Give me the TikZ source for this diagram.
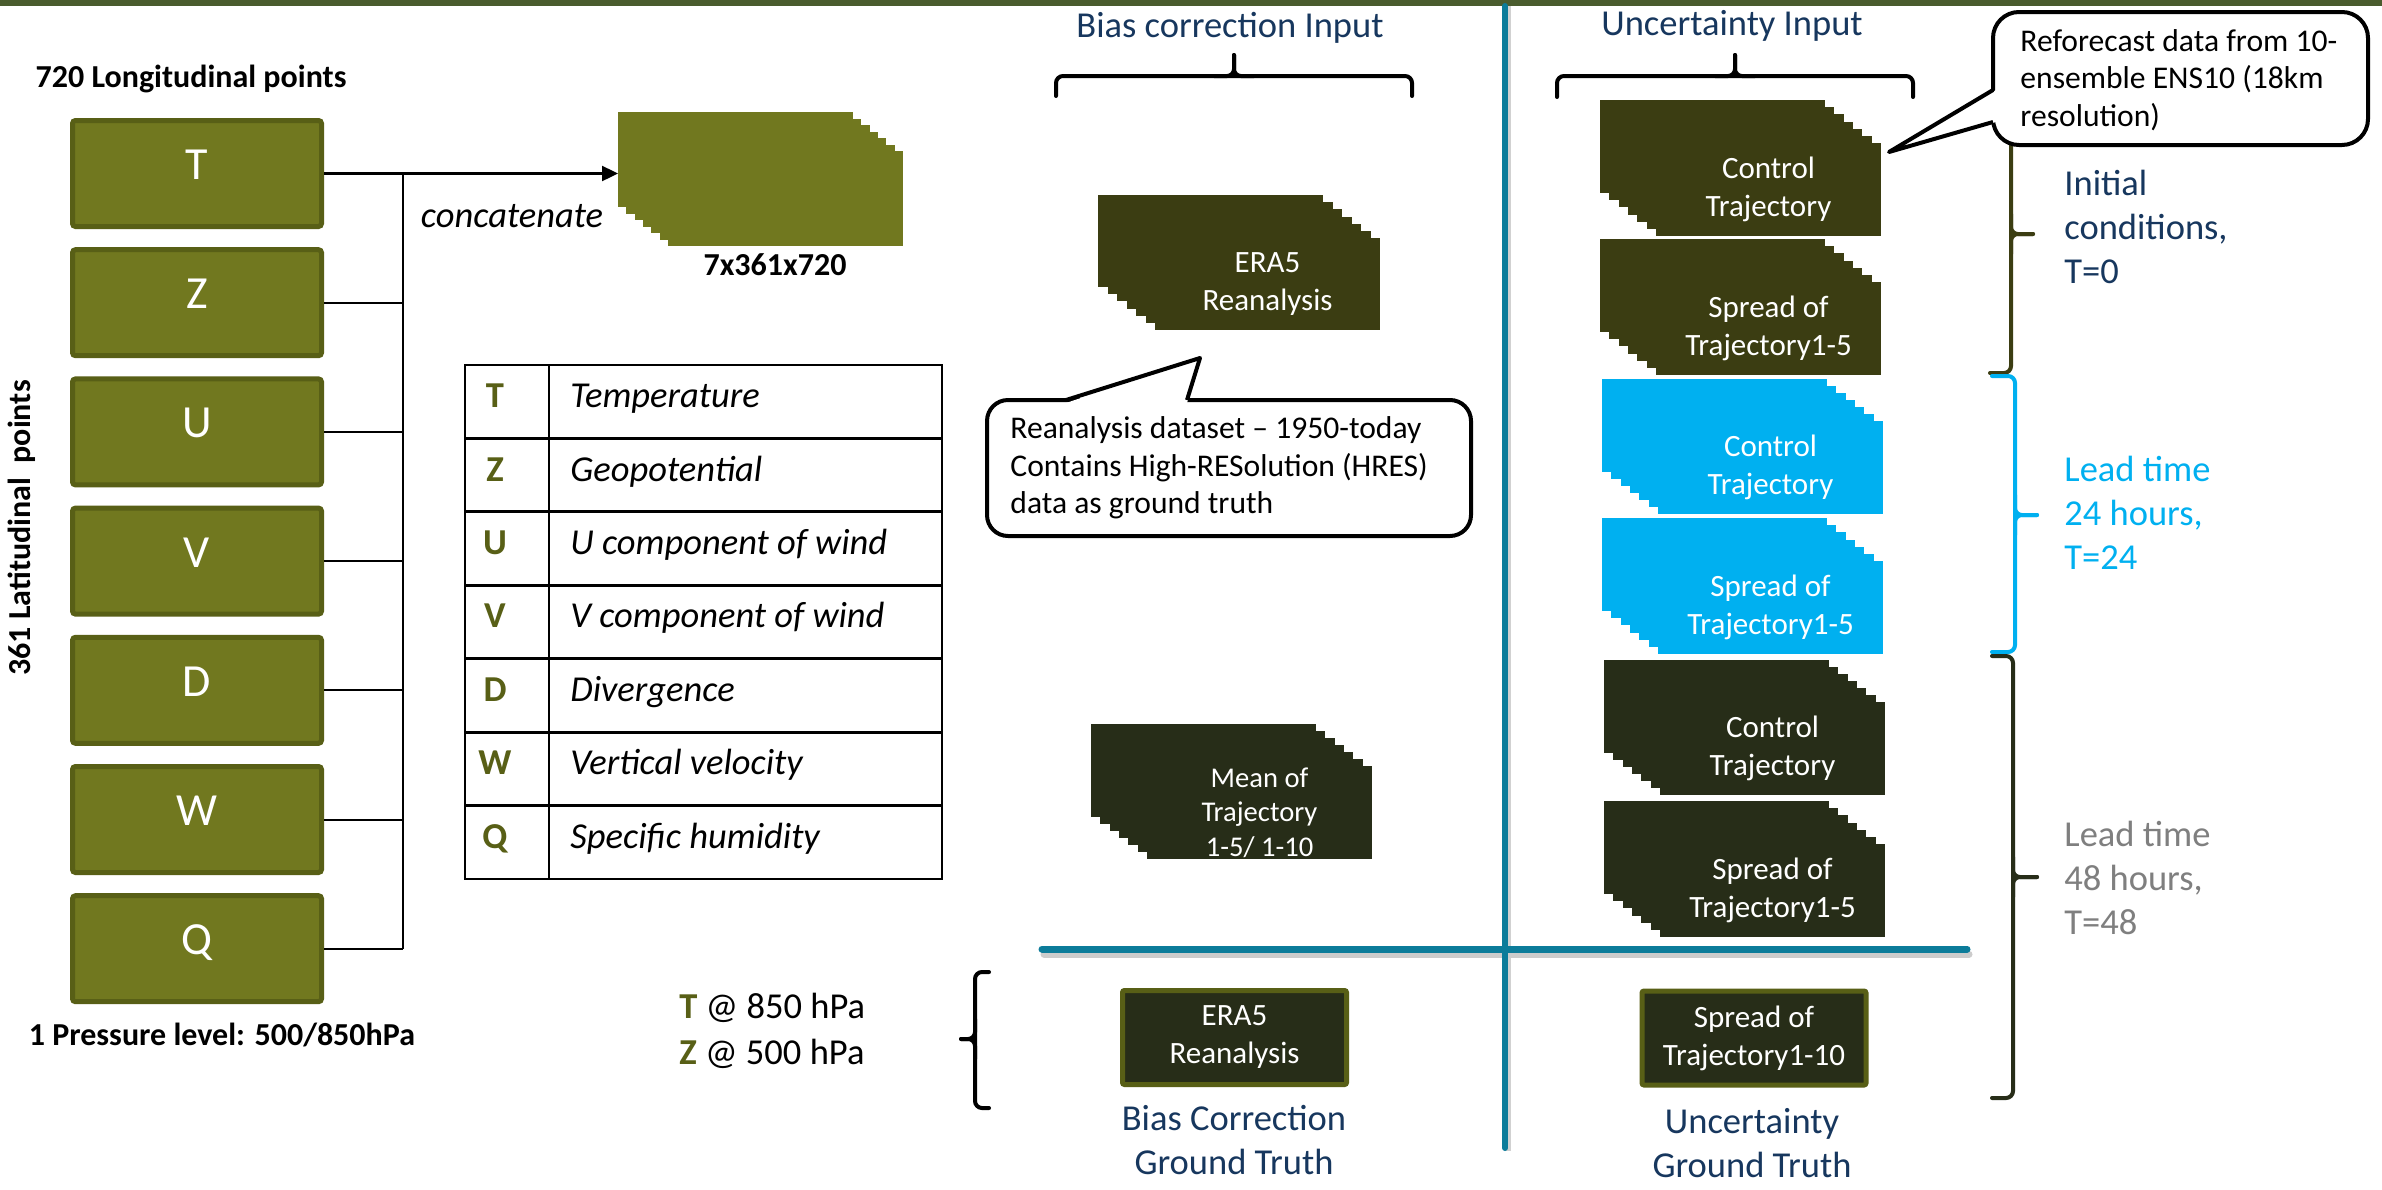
\documentclass[tikz,border=0pt]{standalone}
\usepackage{fontspec}
\setmainfont{Carlito}
\usetikzlibrary{arrows.meta}
\definecolor{cOlive}{RGB}{113,120,31}
\definecolor{cOliveB}{RGB}{88,95,22}
\definecolor{cDarkA}{RGB}{59,61,18}
\definecolor{cDarkB}{RGB}{39,45,24}
\definecolor{cCyan}{RGB}{0,176,240}
\definecolor{cNavy}{RGB}{23,55,94}
\definecolor{cTeal}{RGB}{12,124,154}
\definecolor{cGray}{RGB}{127,127,127}
\definecolor{cBand}{RGB}{74,92,46}
\newcommand\fntLab{\fontsize{18.25pt}{22pt}\selectfont}
\newcommand\fntDim{\fontsize{16pt}{19pt}\selectfont\bfseries}
\newcommand\fntStk{\fontsize{15.5pt}{19pt}\selectfont}
\newcommand\fntCall{\fontsize{15.8pt}{18.75pt}\selectfont}
\newcommand\fntBox{\fontsize{23pt}{27pt}\selectfont}
\newcommand\drawstack[9]{%
  \pgfmathsetmacro\stkdx{((#3-#1)-#5)/6}%
  \pgfmathsetmacro\stkdy{((#4-#2)-#6)/6}%
  \foreach \k in {0,...,6}{\fill[#7] ({#1+\k*\stkdx},{#2+\k*\stkdy}) rectangle ++(#5,#6);}%
  \node[stacktext] (#8) at ({#3-#5/2},{#4-#6/2}) {#9};%
}
% horizontal brace pointing up: x1, x2, yend, ybar, xtip, ytip
\newcommand\hbrace[6]{%
  \draw[brcl] (#1,#3) -- (#1,#4) -- (#2,#4) -- (#2,#3);
  \draw[brcl] ({#5-20},#4) -- (#5,#4) -- (#5,#6);
  \draw[brcl] ({#5+20},#4) -- (#5,#4) -- (#5,#6);
}
% vertical brace: xend, y1, y2, xbar, xtip, ytip, colour
\newcommand\vbrace[7]{%
  \draw[brcl, #7] (#1,#2) -- (#4,#2) -- (#4,#3) -- (#1,#3);
  \draw[brcl, #7] (#4,{#6-20}) -- (#4,#6) -- (#5,#6);
  \draw[brcl, #7] (#4,{#6+20}) -- (#4,#6) -- (#5,#6);
}
\tikzset{
 single/.style={text height=1.5ex, text depth=.25ex},
 lbox/.style={rectangle, rounded corners=1.5pt, fill=cOlive, draw=cOliveB, line width=2.5pt,
   minimum width=124.5pt, minimum height=53pt, text=white, font=\fntBox, inner sep=0pt, single},
 stacktext/.style={text=white, align=center, font=\fntStk, inner sep=0pt},
 lab/.style={inner sep=0pt, font=\fntLab},
 conn/.style={line width=1pt, black},
 brcl/.style={line width=2pt, rounded corners=3.5pt, line cap=round},
 callout/.style={draw=black, fill=white, line width=2pt, rounded corners=10.5pt},
 gtbox/.style={rectangle, fill=cDarkB, draw=cOliveB, line width=2.5pt, rounded corners=1pt,
   minimum width=112pt, minimum height=47pt, text=white, align=center, font=\fntStk, inner sep=0pt},
 tline/.style={line width=1.4pt, black}
}
\begin{document}
\begin{tikzpicture}[x=0.5pt, y=-0.5pt]
\useasboundingbox (0,0) rectangle (2382,1189);
\fill[white] (0,0) rectangle (2382,1189);
\fill[cBand] (0,0) rectangle (2382,6);

% dividers
\draw[line width=3pt, black!18] (1508,6) -- (1508,1151);
\draw[line width=3.5pt, black!20, line cap=round] (1044,954) -- (1969,954);
\draw[line width=3pt, cTeal, line cap=round] (1505,6) -- (1505,1148);
\draw[line width=3.5pt, cTeal, line cap=round] (1042,949) -- (1967,949);

% left boxes
\foreach \l [count=\i] in {T,Z,U,V,D,W,Q}
  \node[lbox] (box\l) at (197,{173.5+129.2*(\i-1)}) {\l};
\node[lab, font=\fntDim, single] (lon) at (191,82) {720 Longitudinal points};
\node[lab, font=\fntDim, single, rotate=90] (lat) at (25,528) {361 Latitudinal\ \ points};
\node[lab, font=\fntDim, single] (prs) at (222,1040) {1 Pressure level: 500/850hPa};

% concatenate stack and connectors
\drawstack{618}{112}{903}{246}{235}{95}{cOlive}{cat}{}
\coordinate (catin) at (618,173.5);
\coordinate (busT) at (403,173.5);
\coordinate (busB) at (403,948.7);
\draw[line width=1.2pt, -{Triangle[length=8pt,width=7.5pt]}] (boxT.east) -- (catin);
\draw[conn] (busT) -- (busB);
\foreach \l in {Z,U,V,D,W,Q} \draw[conn] (box\l.east) -- (box\l.east -| busT);
\node[lab, font=\fntLab\itshape, single] (concat) at (512,222) {concatenate};
\node[lab, font=\fntDim, single] (dims) at (775,270) {7x361x720};

% table
\draw[tline] (465,365) rectangle (942,879);
\foreach \i in {1,...,6} \draw[tline] (465,{365+73.43*\i}) -- (942,{365+73.43*\i});
\draw[tline] (549,365) -- (549,879);
\foreach \l/\d [count=\i] in {T/Temperature, Z/Geopotential, U/U component of wind, V/V component of wind, D/Divergence, W/Vertical velocity, Q/Specific humidity}{
  \node[lab, single, font=\fntLab\bfseries, text=cOliveB] (tl\i) at (495,{365+73.43*(\i-0.5)}) {\l};
  \node[lab, single, font=\fntLab\itshape, anchor=west] (td\i) at (570,{365+73.43*(\i-0.5)}) {\d};
}

% bias correction input
\node[lab, text=cNavy, single] (titA) at (1230,32) {Bias correction Input};
\hbrace{1056}{1412}{96}{76}{1234}{55}
\drawstack{1098}{195}{1380}{330}{225}{92}{cDarkA}{era}{ERA5\\Reanalysis}
\begin{scope}[stacktext/.append style={font=\fontsize{14.3pt}{17.25pt}\selectfont}]
\drawstack{1091}{724}{1372}{859}{225}{93}{cDarkB}{mean}{Mean of\\Trajectory\\1-5/ 1-10}
\end{scope}
% callout A
\draw[callout] (987,400) rectangle (1471,536);
\fill[white] (1066,403) -- (1200,358) -- (1187,403) -- cycle;
\draw[line width=2pt, line join=round] (1066,400) -- (1200,358) -- (1187,400);
\node[lab, font=\fntCall, anchor=west, align=left] (callA) at (1010,468) {Reanalysis dataset \textendash{} 1950-today\\Contains High-RESolution (HRES)\\data as ground truth};

% uncertainty input
\node[lab, text=cNavy, single] (titB) at (1732,30) {Uncertainty Input};
\hbrace{1557}{1913}{97}{76}{1735}{55}
\drawstack{1600}{100}{1881}{236}{225}{93}{cDarkA}{ctlA}{Control\\Trajectory}
\drawstack{1600}{239}{1881}{375}{225}{93}{cDarkA}{sprA}{Spread of\\Trajectory1-5}
\drawstack{1602}{379}{1883}{514}{225}{93}{cCyan}{ctlB}{Control\\Trajectory}
\drawstack{1602}{518}{1883}{654}{225}{93}{cCyan}{sprB}{Spread of\\Trajectory1-5}
\drawstack{1604}{660}{1885}{795}{225}{93}{cDarkB}{ctlC}{Control\\Trajectory}
\drawstack{1604}{801}{1885}{937}{225}{93}{cDarkB}{sprC}{Spread of\\Trajectory1-5}

% right braces
\vbrace{1990}{95}{373}{2011}{2033}{234}{cDarkA}
\vbrace{1992}{376}{652}{2015}{2037}{515}{cCyan}
\vbrace{1992}{656}{1098}{2013}{2037}{877}{cDarkB}

% callout B
\draw[callout, rounded corners=13pt] (1993,12) rectangle (2368,145);
\fill[white] (1996,90) -- (1889,152) -- (1996,122) -- cycle;
\draw[line width=2pt, line join=round] (1993,90) -- (1889,152) -- (1993,122);
\node[lab, font=\fntCall, anchor=west, align=left] (callB) at (2020,80) {Reforecast data from 10-\\ensemble ENS10 (18km\\resolution)};

% right labels
\node[lab, anchor=west, align=left, text=cNavy] (lblA) at (2064,227) {Initial\\conditions,\\T=0};
\node[lab, anchor=west, align=left, text=cCyan] (lblB) at (2064,513) {Lead time\\24 hours,\\T=24};
\node[lab, anchor=west, align=left, text=cGray] (lblC) at (2064,878) {Lead time\\48 hours,\\T=48};

% ground truth
\node[lab, anchor=west, single] (tlev) at (679,1013) {\textbf{\textcolor{cOliveB}{T}} @ 850 hPa};
\node[lab, anchor=west, single] (zlev) at (679,1059) {\textbf{\textcolor{cOliveB}{Z}} @ 500 hPa};
\vbrace{989}{972}{1108}{975}{961}{1039}{black}
\node[gtbox] (gtA) at (1234.5,1037.5) {ERA5\\Reanalysis};
\node[gtbox] (gtB) at (1754,1038) {Spread of\\Trajectory1-10};
\node[lab, text=cNavy, align=center] (gtlA) at (1234,1140) {Bias Correction\\Ground Truth};
\node[lab, text=cNavy, align=center] (gtlB) at (1752,1143) {Uncertainty\\Ground Truth};
\end{tikzpicture}
\end{document}
